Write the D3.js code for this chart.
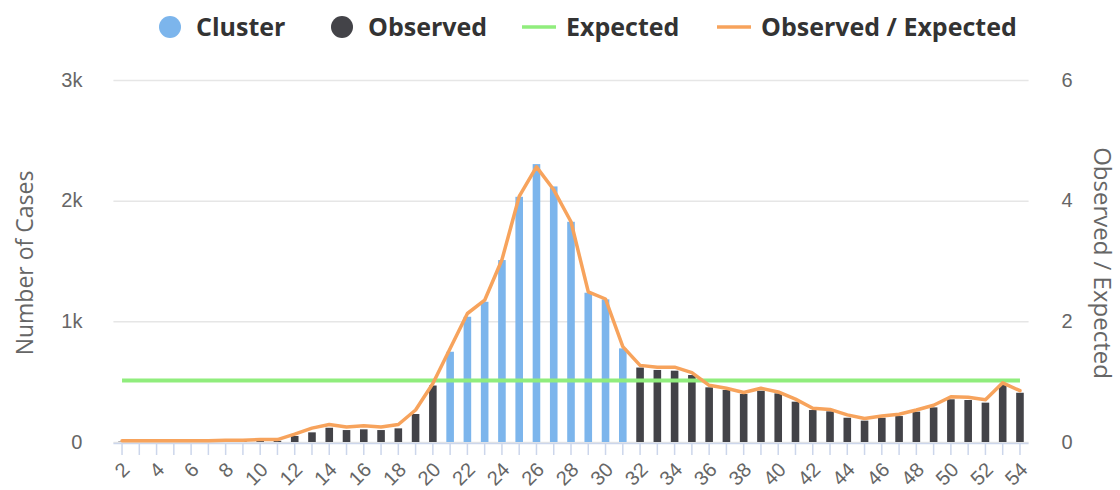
<!DOCTYPE html>
<html><head><meta charset="utf-8">
<script src="https://cdn.jsdelivr.net/npm/d3@7"></script>
<style>
body{margin:0;background:#fff}
svg{font-family:"Open Sans",sans-serif;display:block}
</style>
</head><body>
<svg id="c" width="1120" height="490"></svg>
<script>
const weeks = [2,3,4,5,6,7,8,9,10,11,12,13,14,15,16,17,18,19,20,21,22,23,24,25,26,27,28,29,30,31,32,33,34,35,36,37,38,39,40,41,42,43,44,45,46,47,48,49,50,51,52,53,54];
const tickLabels = ["2","4","6","8","10","12","14","16","18","20","22","24","26","28","30","32","34","36","38","40","42","44","46","48","50","52","54"];
// Cluster weeks (blue) and observed weeks (dark); null where the other series applies
const clusterCases = [null,null,null,null,null,null,null,null,null,null,null,null,null,null,null,null,null,null,null,
  748,1038,1162,1508,2032,2303,2118,1825,1237,1182,776,
  null,null,null,null,null,null,null,null,null,null,null,null,null,null,null,null,null,null,null,null,null,null,null];
const observedCases = [3,3,3,4,4,5,6,8,8,10,50,80,118,99,105,99,113,232,468,
  null,null,null,null,null,null,null,null,null,null,null,
  617,597,591,555,453,431,398,425,403,334,265,254,201,177,201,215,251,287,354,348,326,472,408];
const expectedCases = [510,510,510,510,510,510,510,510,510,510,510,510,510,510,510,510,510,510,510,510,510,510,510,510,510,510,510,510,510,510,510,510,510,510,510,510,510,510,510,510,510,510,510,510,510,510,510,510,510,510,510,510,510];
const ratio = [0.02,0.02,0.02,0.02,0.02,0.02,0.03,0.03,0.04,0.04,0.13,0.23,0.29,0.25,0.27,0.25,0.29,0.53,0.97,
  1.55,2.13,2.35,3.02,4.07,4.56,4.18,3.65,2.49,2.37,1.58,
  1.27,1.24,1.24,1.15,0.94,0.89,0.82,0.89,0.83,0.71,0.56,0.54,0.45,0.39,0.43,0.46,0.53,0.61,0.75,0.74,0.70,0.98,0.85];
const leftTicks = [0,1000,2000,3000];
const leftTickLabels = ["0","1k","2k","3k"];
const rightTicks = [0,2,4,6];
const rightTickLabels = ["0","2","4","6"];

const C_CLUSTER = "#7cb5ec", C_OBS = "#434348", C_EXP = "#90ed7d", C_RATIO = "#f7a35c";

const svg = d3.select("#c");
const L = 113.4, R = 1028.6, T = 80, B = 442;

const x = d3.scaleBand().domain(weeks).range([L, R]).paddingInner(0.56).paddingOuter(0.28);
const cx = d => x(d) + x.bandwidth()/2;
const yL = d3.scaleLinear().domain([0,3000]).range([B, T]);
const yR = d3.scaleLinear().domain([0,6]).range([B, T]);

// gridlines
const grid = svg.append("g").attr("transform",`translate(${L},0)`)
  .call(d3.axisLeft(yL).tickValues(leftTicks).tickSize(-(R-L)).tickFormat(""));
grid.select(".domain").remove();
grid.selectAll("line").attr("stroke","#e6e6e6").attr("stroke-width",1.5);

// left labels
const ga = svg.append("g").attr("transform",`translate(${L},0)`)
  .call(d3.axisLeft(yL).tickValues(leftTicks).tickSize(0).tickPadding(31)
    .tickFormat((d,i)=>leftTickLabels[i]));
ga.select(".domain").remove();
ga.selectAll("text").attr("fill","#666").style("font-size","20px").attr("dy","0.3em");

// right labels
const gr = svg.append("g").attr("transform",`translate(${R},0)`)
  .call(d3.axisRight(yR).tickValues(rightTicks).tickSize(0).tickPadding(33)
    .tickFormat((d,i)=>rightTickLabels[i]));
gr.select(".domain").remove();
gr.selectAll("text").attr("fill","#666").style("font-size","20px").attr("dy","0.3em");

// axis titles
svg.append("text").attr("transform",`translate(33,${(T+B)/2+2}) rotate(-90)`)
  .attr("text-anchor","middle").attr("fill","#666").style("font-size","23px").text("Number of Cases");
svg.append("text").attr("transform",`translate(1094,${(T+B)/2+2}) rotate(90)`)
  .attr("text-anchor","middle").attr("fill","#666").style("font-size","24px").text("Observed / Expected");

// bottom axis
const gx = svg.append("g").attr("transform",`translate(0,${B+1})`)
  .call(d3.axisBottom(x).tickSize(12).tickSizeOuter(0).tickPadding(4)
    .tickFormat(d => tickLabels.includes(String(d)) ? String(d) : ""));
gx.select(".domain").attr("stroke","#ccd6eb").attr("stroke-width",1.5).attr("d",`M${L},0.5H${R}`);
gx.selectAll(".tick line").attr("stroke","#ccd6eb").attr("stroke-width",1.5);
gx.selectAll(".tick text").attr("fill","#666").style("font-size","20px")
  .attr("text-anchor","end").attr("x",0).attr("y",0).attr("dy","0.35em")
  .attr("transform","translate(4,23) rotate(-45)");

// bars
svg.append("g").selectAll("rect").data(weeks.map((w,i)=>({w,v:clusterCases[i]})).filter(d=>d.v!==null))
  .join("rect").attr("x",d=>x(d.w)).attr("width",x.bandwidth())
  .attr("y",d=>yL(d.v)).attr("height",d=>B-yL(d.v)).attr("fill",C_CLUSTER);
svg.append("g").selectAll("rect").data(weeks.map((w,i)=>({w,v:observedCases[i]})).filter(d=>d.v!==null))
  .join("rect").attr("x",d=>x(d.w)).attr("width",x.bandwidth())
  .attr("y",d=>yL(d.v)).attr("height",d=>B-yL(d.v)).attr("fill",C_OBS);

// expected line
svg.append("path").datum(weeks.map((w,i)=>[cx(w), yL(expectedCases[i])]))
  .attr("d", d3.line()).attr("fill","none").attr("stroke",C_EXP).attr("stroke-width",4);

// ratio line
svg.append("path").datum(weeks.map((w,i)=>[cx(w), yR(ratio[i])]))
  .attr("d", d3.line()).attr("fill","none").attr("stroke",C_RATIO).attr("stroke-width",3.5)
  .attr("stroke-linejoin","round").attr("stroke-linecap","round");

// legend
const lg = svg.append("g").style("font-size","25px").style("font-weight","bold").attr("fill","#333");
const ly = 27;
lg.append("circle").attr("cx",170).attr("cy",ly).attr("r",11).attr("fill",C_CLUSTER);
lg.append("text").attr("x",196).attr("y",ly).attr("dy","0.35em").text("Cluster");
lg.append("circle").attr("cx",342).attr("cy",ly).attr("r",11).attr("fill",C_OBS);
lg.append("text").attr("x",368).attr("y",ly).attr("dy","0.35em").text("Observed");
lg.append("line").attr("x1",522).attr("x2",556).attr("y1",ly).attr("y2",ly).attr("stroke",C_EXP).attr("stroke-width",3.5);
lg.append("text").attr("x",566).attr("y",ly).attr("dy","0.35em").text("Expected");
lg.append("line").attr("x1",717).attr("x2",751).attr("y1",ly).attr("y2",ly).attr("stroke",C_RATIO).attr("stroke-width",3.5);
lg.append("text").attr("x",761).attr("y",ly).attr("dy","0.35em").text("Observed / Expected");
</script>
</body></html>
